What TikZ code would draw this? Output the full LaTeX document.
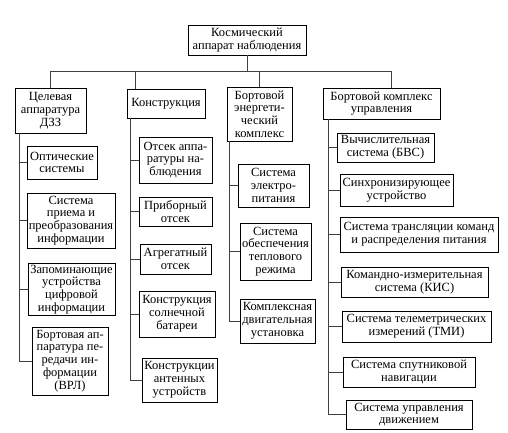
\documentclass[tikz,border=0pt]{standalone}
\usepackage{fontspec}
\setmainfont{Liberation Serif}

\tikzset{
  blk/.style={draw, rectangle, align=center, inner sep=1pt,
    font=\rmfamily\fontsize{12.5}{12.8}\selectfont},
  wire/.style={draw=black!75, line width=0.7pt}
}

\begin{document}
\begin{tikzpicture}[x=1pt, y=-1pt, line width=0.7pt]
  \useasboundingbox (0,0) rectangle (508,433);
  % top and column heads
  \node[blk, minimum width=118, minimum height=30] (top) at (247,40) {Космический\\аппарат наблюдения};
  \node[blk, minimum width=71, minimum height=45] (h1) at (50.5,110.5) {Целевая\\аппаратура\\ДЗЗ};
  \node[blk, minimum width=78, minimum height=29] (h2) at (166,103.5) {Конструкция};
  \node[blk, minimum width=65, minimum height=54] (h3) at (259.5,114) {Бортовой\\энергети-\\ческий\\комплекс};
  \node[blk, minimum width=117, minimum height=31] (h4) at (381.5,103.5) {Бортовой комплекс\\управления};
  % first column
  \node[blk, minimum width=70, minimum height=33] (a1) at (62,162.5) {Оптические\\системы};
  \node[blk, minimum width=88, minimum height=55] (a2) at (71,220.5) {Система\\приема и\\преобразования\\информации};
  \node[blk, minimum width=87, minimum height=51] (a3) at (71.5,289.5) {Запоминающие\\устройства\\цифровой\\информации};
  \node[blk, minimum width=76, minimum height=68] (a4) at (70,361) {Бортовая ап-\\паратура пе-\\редачи ин-\\формации\\(ВРЛ)};
  % second column
  \node[blk, minimum width=73, minimum height=46] (b1) at (175.5,160) {Отсек аппа-\\ратуры на-\\блюдения};
  \node[blk, minimum width=73, minimum height=29] (b2) at (175.5,211.5) {Приборный\\отсек};
  \node[blk, minimum width=71, minimum height=30] (b3) at (175.5,259) {Агрегатный\\отсек};
  \node[blk, minimum width=76, minimum height=46] (b4) at (177,314) {Конструкция\\солнечной\\батареи};
  \node[blk, minimum width=75, minimum height=44] (b5) at (179.5,380) {Конструкции\\антенных\\устройств};
  % third column
  \node[blk, minimum width=71, minimum height=43] (c1) at (273.5,185.5) {Система\\электро-\\питания};
  \node[blk, minimum width=71, minimum height=57] (c2) at (275.5,251.5) {Система\\обеспечения\\теплового\\режима};
  \node[blk, minimum width=75, minimum height=44] (c3) at (277.5,321) {Комплексная\\двигательная\\установка};
  % fourth column
  \node[blk, minimum width=97, minimum height=29] (d1) at (385.5,147.5) {Вычислительная\\система (БВС)};
  \node[blk, minimum width=113, minimum height=32] (d2) at (396.5,190) {Синхронизирующее\\устройство};
  \node[blk, minimum width=158, minimum height=35] (d3) at (419,234.5) {Система трансляции команд\\и распределения питания};
  \node[blk, minimum width=147, minimum height=30] (d4) at (414.5,282) {Командно-измерительная\\система (КИС)};
  \node[blk, minimum width=149, minimum height=31] (d5) at (416.5,326.5) {Система телеметрических\\измерений (ТМИ)};
  \node[blk, minimum width=132, minimum height=30] (d6) at (409,372) {Система спутниковой\\навигации};
  \node[blk, minimum width=126, minimum height=29] (d7) at (409,414.5) {Система управления\\движением};
  % the bus under the top box
  \coordinate (busL) at (50,71);
  \coordinate (busR) at (391,71);
  \coordinate (k2) at (135,71);
  \draw[wire] (top.south) -- (top.south |- busL);
  \draw[wire] (h1.north) -- (h1.north |- busL) -- (busR) -- (busR |- h4.north);
  \draw[wire] (k2) -- (k2 |- h2.north);
  \draw[wire] (h3.north) -- (h3.north |- busL);
  % trunks and branches
  \draw[wire] ([xshift=5]h1.south west) |- (a1.west);
  \draw[wire] ([xshift=5]h1.south west) |- (a2.west);
  \draw[wire] ([xshift=5]h1.south west) |- (a3.west);
  \draw[wire] ([xshift=5]h1.south west) |- (a4.west);
  \draw[wire] ([xshift=4]h2.south west) |- (b1.west);
  \draw[wire] ([xshift=4]h2.south west) |- (b2.west);
  \draw[wire] ([xshift=4]h2.south west) |- (b3.west);
  \draw[wire] ([xshift=4]h2.south west) |- (b4.west);
  \draw[wire] ([xshift=4]h2.south west) |- (b5.west);
  \draw[wire] ([xshift=3]h3.south west) |- (c1.west);
  \draw[wire] ([xshift=3]h3.south west) |- (c2.west);
  \draw[wire] ([xshift=3]h3.south west) |- (c3.west);
  \draw[wire] ([xshift=6]h4.south west) |- (d1.west);
  \draw[wire] ([xshift=6]h4.south west) |- (d2.west);
  \draw[wire] ([xshift=6]h4.south west) |- (d3.west);
  \draw[wire] ([xshift=6]h4.south west) |- (d4.west);
  \draw[wire] ([xshift=6]h4.south west) |- (d5.west);
  \draw[wire] ([xshift=6]h4.south west) |- (d6.west);
  \draw[wire] ([xshift=6]h4.south west) |- (d7.west);
\end{tikzpicture}
\end{document}
